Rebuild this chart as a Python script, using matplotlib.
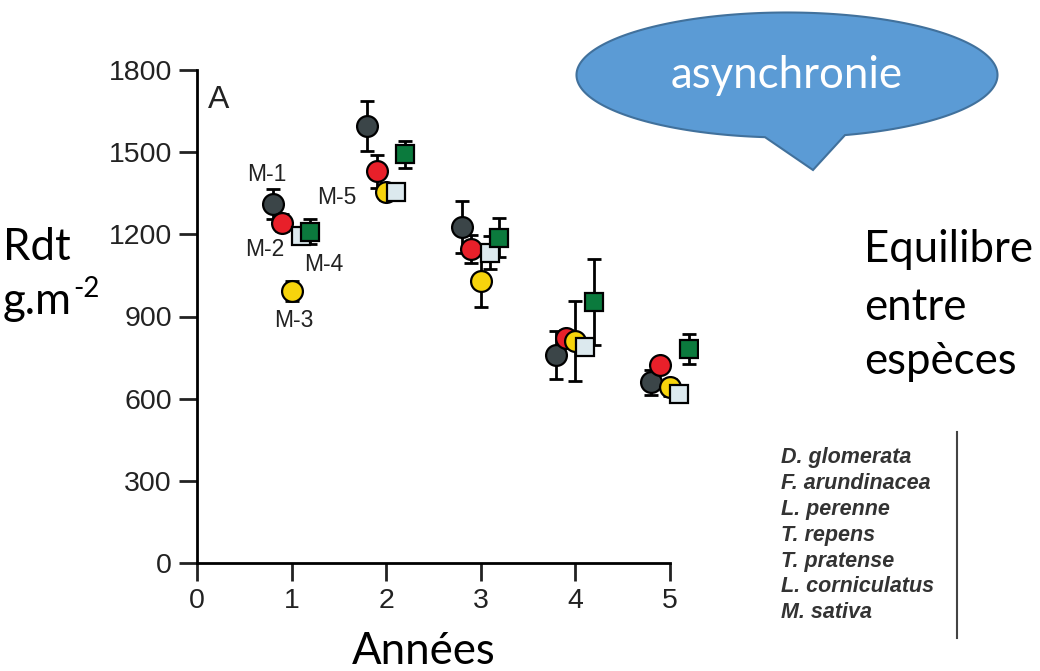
import matplotlib.pyplot as plt
import numpy as np

years = np.array([1, 2, 3, 4, 5])

# yield (g/m2) and error per mixture
m1_vals = [1312, 1595, 1228, 759, 660]
m1_err = [55, 90, 95, 88, 45]
m2_vals = [1243, 1430, 1147, 821, 722]
m2_err = [30, 60, 50, 30, 20]
m3_vals = [993, 1356, 1030, 810, 641]
m3_err = [35, 30, 95, 145, 30]
m5_vals = [1195, 1356, 1133, 788, 616]
m5_err = [20, 25, 60, 20, 20]
m4_vals = [1210, 1492, 1188, 953, 781]
m4_err = [45, 50, 70, 158, 55]

series = [
    ("M-1", m1_vals, m1_err, -0.2, "o", "#3b4548"),
    ("M-2", m2_vals, m2_err, -0.1, "o", "#e8202a"),
    ("M-3", m3_vals, m3_err, 0.0, "o", "#f7d40c"),
    ("M-5", m5_vals, m5_err, 0.1, "s", "#dce9ee"),
    ("M-4", m4_vals, m4_err, 0.2, "s", "#0b7a3d"),
]

species = ["D. glomerata", "F. arundinacea", "L. perenne", "T. repens",
           "T. pratense", "L. corniculatus", "M. sativa"]

fig = plt.figure(figsize=(10.4, 6.71), dpi=100)
ax = fig.add_axes([197 / 1040, 108 / 671, 501 / 1040, 493 / 671])

for i, (name, vals, err, off, mk, col) in enumerate(series):
    ax.errorbar(years + off, vals, yerr=err, fmt="none", ecolor="black",
                elinewidth=2, capsize=5, capthick=2, zorder=2 + i * 0.01)
for i, (name, vals, err, off, mk, col) in enumerate(series):
    ax.plot(years + off, vals, linestyle="none", marker=mk,
            markersize=15 if mk == "o" else 13.5, markerfacecolor=col,
            markeredgecolor="black", markeredgewidth=1.6, zorder=3 + i * 0.01)

# mixture labels next to year 1 points
lab_pos = {"M-1": (0.74, 1420), "M-2": (0.72, 1144), "M-3": (1.02, 884),
           "M-4": (1.34, 1089), "M-5": (1.48, 1334)}
for name, (lx, ly) in lab_pos.items():
    ax.text(lx, ly, name, ha="center", va="center", fontsize=16.5,
            family="Liberation Sans", color="#222222")

ax.set_xlim(0, 5.3)
ax.set_ylim(0, 1800)
ax.set_xticks([0, 1, 2, 3, 4, 5])
ax.set_yticks([0, 300, 600, 900, 1200, 1500, 1800])
ax.spines["top"].set_visible(False)
ax.spines["right"].set_visible(False)
ax.spines["bottom"].set_bounds(0, 5)
for s in ["left", "bottom"]:
    ax.spines[s].set_linewidth(2)
ax.tick_params(direction="out", length=13, width=2, labelsize=20.5, pad=5,
               colors="#222222")
for lbl in ax.get_xticklabels() + ax.get_yticklabels():
    lbl.set_family("Liberation Sans")
ax.patch.set_alpha(0)
ax.text(0.12, 1690, "A", fontsize=23, family="Liberation Sans",
        color="#222222", va="center")

# overlay in pixel coordinates for the slide annotations
ov = fig.add_axes([0, 0, 1, 1], zorder=5)
ov.set_xlim(0, 1040)
ov.set_ylim(671, 0)
ov.axis("off")
ov.patch.set_alpha(0)

# speech bubble
cx, cy, a, b = 787, 75, 210.5, 62.5
t0 = np.arccos((765 - cx) / a)
t1 = np.arccos((845 - cx) / a) + 2 * np.pi
t = np.linspace(t0, t1, 300)
px = np.concatenate([cx + a * np.cos(t), [813], [cx + a * np.cos(t0)]])
py = np.concatenate([cy + b * np.sin(t), [170], [cy + b * np.sin(t0)]])
ov.fill(px, py, facecolor="#5b9bd5", edgecolor="#41719c", linewidth=1.5)
ov.text(cx, 76, "asynchronie", ha="center", va="center", fontsize=31.5,
        color="white", family="Lato")

txt = dict(family="Lato", fontsize=31.5, color="black")
ov.text(3, 248, "Rdt", ha="left", va="center", **txt)
ov.text(3, 302, "g.m", ha="left", va="center", **txt)
ov.text(73, 289, "-2", ha="left", va="center", family="Lato", fontsize=20,
        color="black")
ov.text(864, 250, "Equilibre", ha="left", va="center", **txt)
ov.text(864, 307, "entre", ha="left", va="center", **txt)
ov.text(864, 362, "espèces", ha="left", va="center", **txt)
ov.text(424, 652, "Années", ha="center", va="center", **txt)

# species list with separator line
for k, sp in enumerate(species):
    ov.text(781, 458 + k * 25.8, sp, ha="left", va="center", fontsize=15.5,
            style="italic", fontweight="bold", family="Liberation Sans",
            color="#333333")
ov.plot([957, 957], [432, 638], color="#444444", linewidth=1.5)

fig.savefig("out.png", dpi=100)
